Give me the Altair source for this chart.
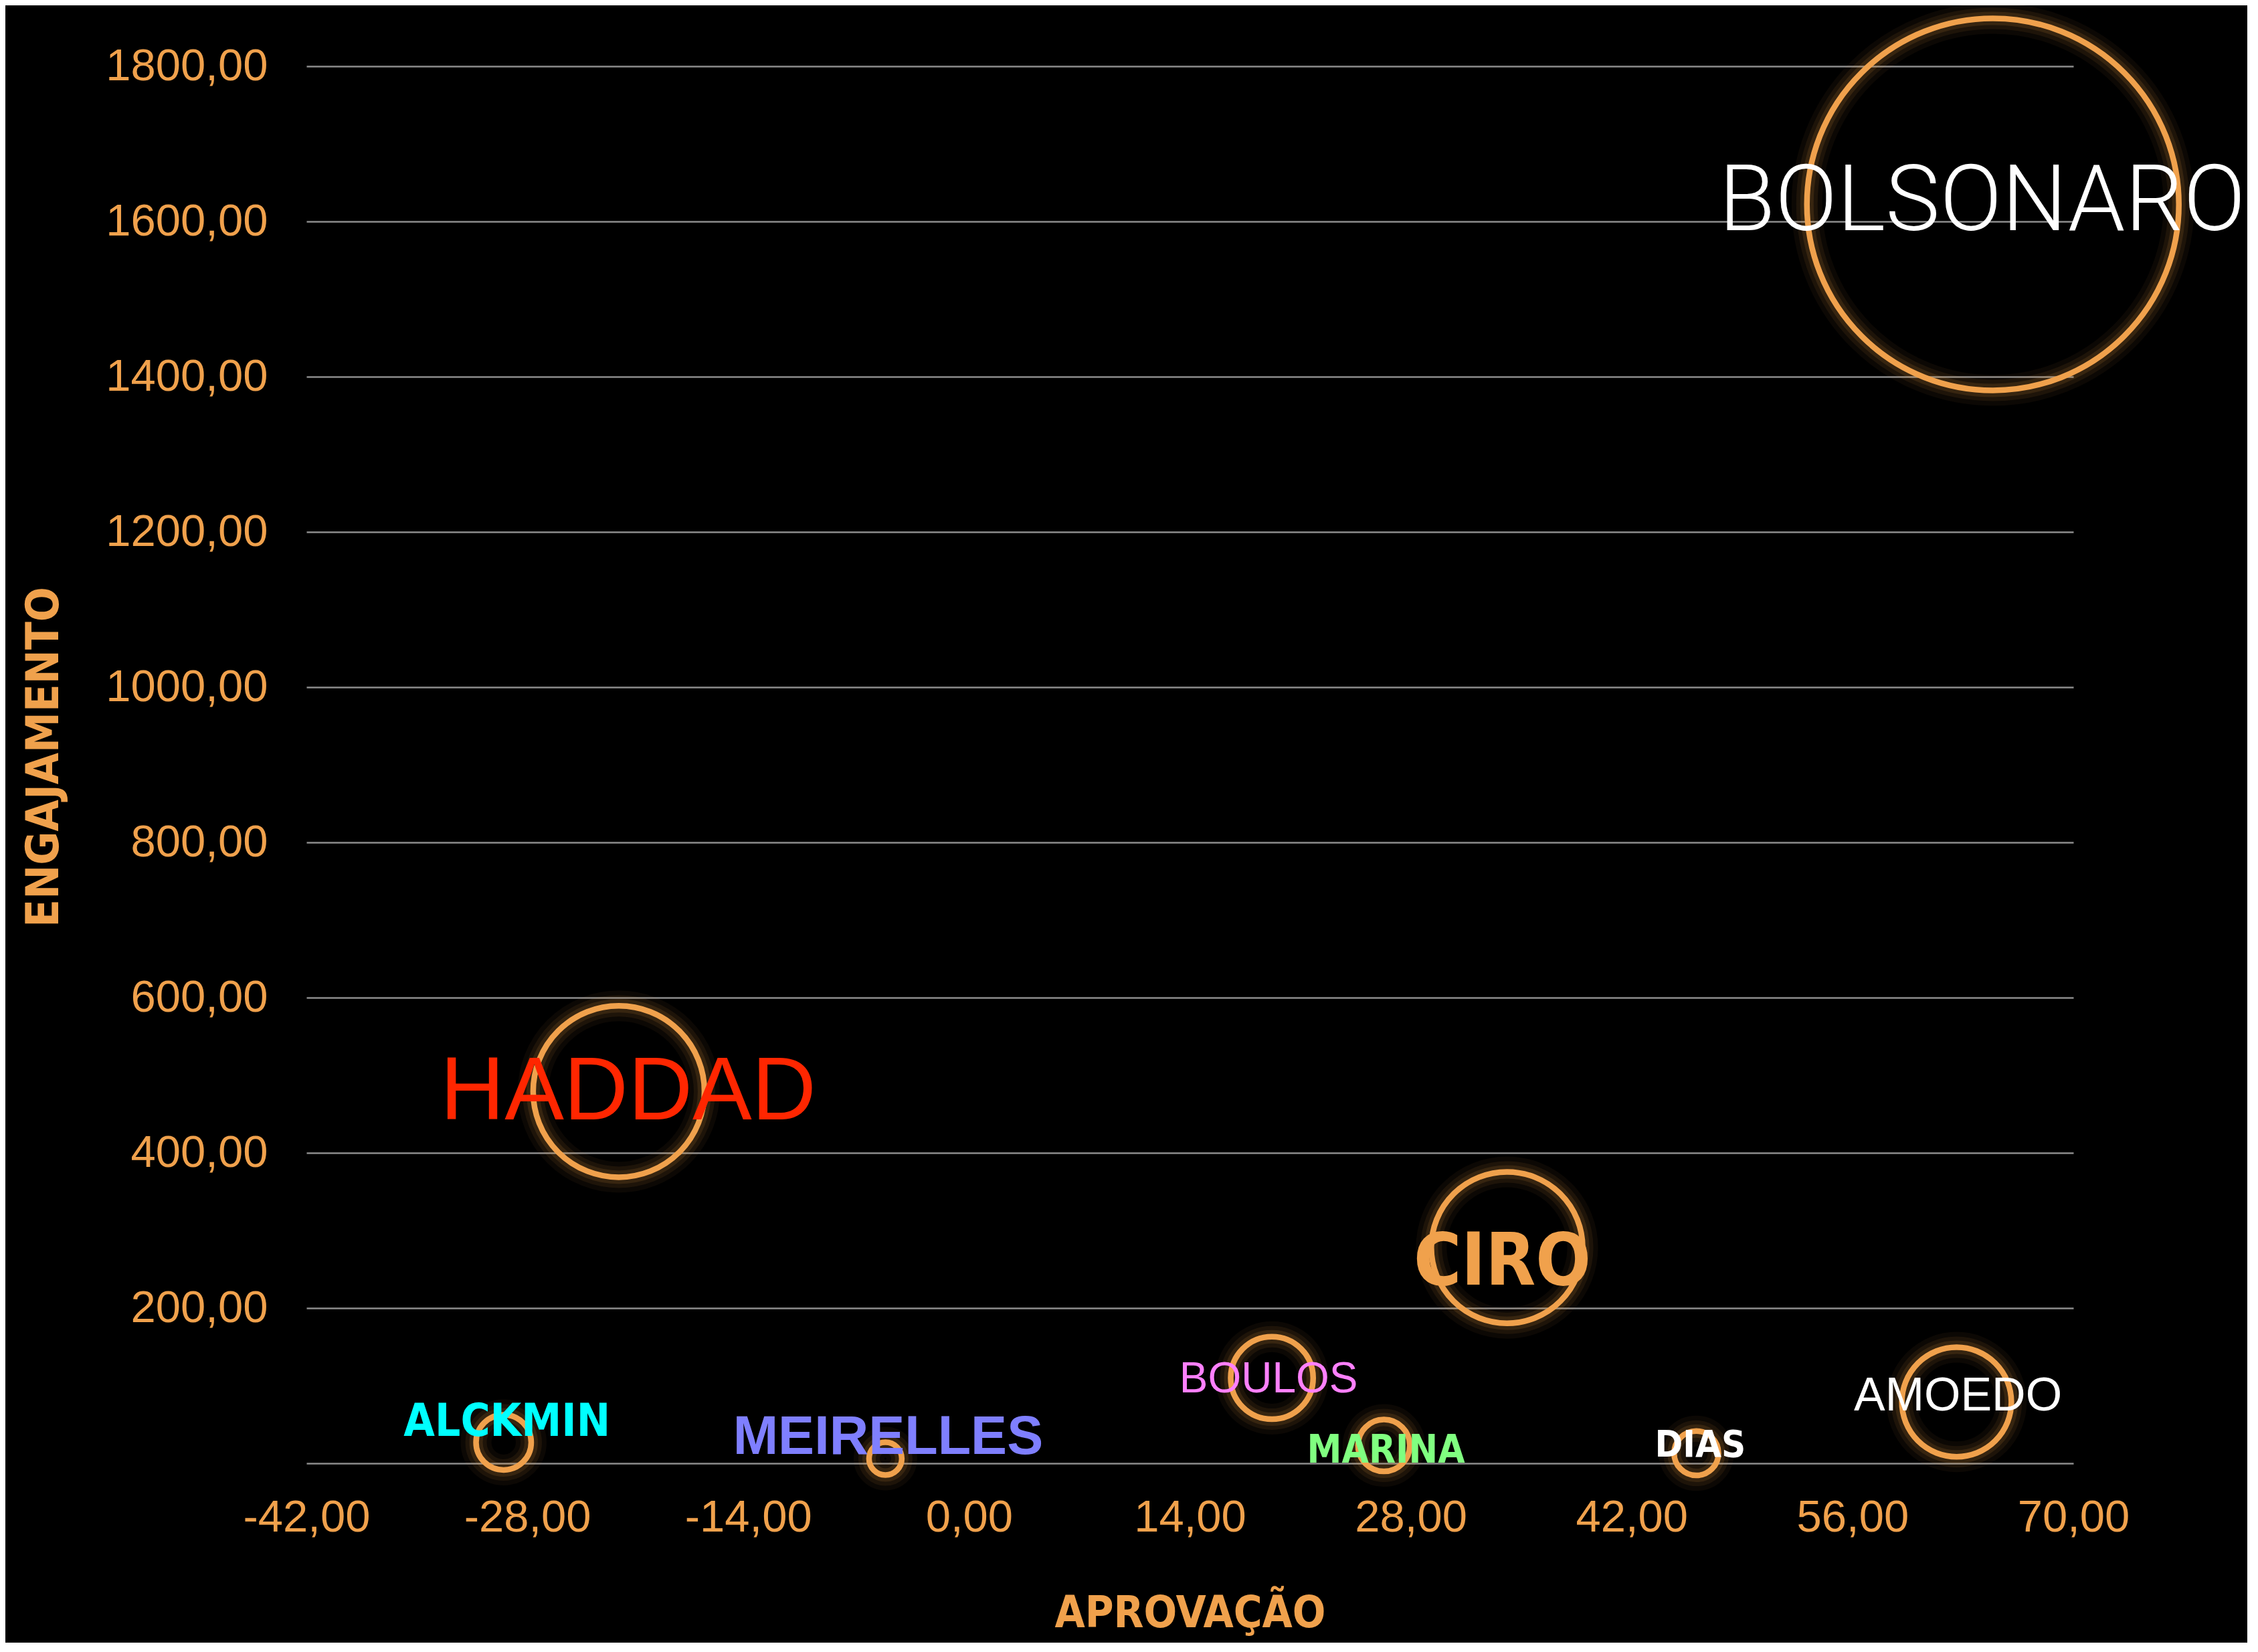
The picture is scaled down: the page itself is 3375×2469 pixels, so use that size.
import altair as alt
import pandas as pd

# ---- data ----
candidatos = ["BOLSONARO", "HADDAD", "CIRO", "BOULOS", "AMOEDO",
              "ALCKMIN", "MEIRELLES", "MARINA", "DIAS"]
aprovacao = [64.9, -22.2, 34.1, 19.2, 62.6, -29.5, -5.3, 26.3, 46.1]
engajamento = [1622, 479, 278, 110, 79, 27, 6, 23, 13]
tamanho = [773, 164, 128, 38, 67, 17, 6, 15, 11]

x_ticks = [-42, -28, -14, 0, 14, 28, 42, 56, 70]
y_ticks = [0, 200, 400, 600, 800, 1000, 1200, 1400, 1600, 1800]

df = pd.DataFrame({"nome": candidatos, "aprovacao": aprovacao,
                   "engajamento": engajamento, "tamanho": tamanho})

ORANGE = "#F0A14C"
HEAVY = ("'Noto Sans Condensed Black', 'Noto Sans Condensed ExtraBold', 'Noto Sans Condensed', "
         "'DejaVu Sans Condensed', 'Liberation Sans Narrow', 'Liberation Sans', sans-serif")
NARROW = ("'Noto Sans Condensed Bold', 'Noto Sans Condensed', 'DejaVu Sans Condensed', "
          "'Liberation Sans Narrow', 'Liberation Sans', sans-serif")
REG = "'Liberation Sans', Arial, sans-serif"

W, H = 2641, 2088

x_enc = alt.X("aprovacao:Q",
              scale=alt.Scale(domain=[-42, 70], nice=False, zero=False),
              axis=alt.Axis(values=x_ticks,
                            labelExpr="(datum.value < 0 ? '-' : '') + replace(format(abs(datum.value), '.2f'), '.', ',')",
                            grid=False, domain=False, ticks=False,
                            labelFont=REG, labelFontSize=67, labelColor=ORANGE,
                            labelPadding=48, labelBaseline="top", labelLimit=0,
                            labelFlush=False, labelOverlap=False, labelBound=False,
                            title="APROVAÇÃO", titleFont=HEAVY, titleFontSize=65,
                            titleFontWeight=900, titleColor=ORANGE,
                            titleX=W / 2, titleY=244, titleAlign="center",
                            titleBaseline="alphabetic", titleLimit=0))
y_enc = alt.Y("engajamento:Q",
              scale=alt.Scale(domain=[0, 1800], nice=False),
              axis=alt.Axis(values=y_ticks,
                            labelExpr="datum.value == 0 ? '' : replace(format(datum.value, '.2f'), '.', ',')",
                            grid=True, gridColor="#8c8c8c", gridWidth=2.5,
                            domain=False, ticks=False,
                            labelFont=REG, labelFontSize=67, labelColor=ORANGE,
                            labelPadding=58, labelLimit=0, labelFlush=False,
                            labelOverlap=False, labelBound=False,
                            title="ENGAJAMENTO", titleFont=HEAVY, titleFontSize=68,
                            titleFontWeight=900, titleColor=ORANGE,
                            titleAngle=270, titleX=-372, titleY=1032,
                            titleAlign="center", titleBaseline="alphabetic",
                            titleLimit=0))

size_enc = alt.Size("tamanho:Q",
                    scale=alt.Scale(domain=[0, 773], range=[0, 309100]),
                    legend=None)

base = alt.Chart(df).encode(x=x_enc, y=y_enc)

halos = [
    base.mark_point(shape="circle", filled=False, stroke=ORANGE, opacity=1,
                    strokeWidth=sw, strokeOpacity=op).encode(size=size_enc)
    for sw, op in [(46, 0.05), (32, 0.08), (20, 0.12)]
]
circles = base.mark_point(shape="circle", filled=False, stroke=ORANGE, opacity=1,
                          strokeWidth=8.5, strokeOpacity=1).encode(size=size_enc)

label_styles = {
    "BOLSONARO": dict(color="#FFFFFF", font="Roboto, Lato, sans-serif", fontWeight=300, fontSize=137, dx=-16, dy=39),
    "HADDAD": dict(color="#FF2600", font=REG, fontWeight="normal", fontSize=133, dx=14, dy=42),
    "CIRO": dict(color=ORANGE, font=HEAVY, fontWeight=900, fontSize=108, dx=-7, dy=55),
    "BOULOS": dict(color="#FF80FF", font=REG, fontWeight="normal", fontSize=64, dx=-5, dy=22),
    "AMOEDO": dict(color="#FFFFFF", font=REG, fontWeight="normal", fontSize=70, dx=2, dy=13),
    "ALCKMIN": dict(color="#00FFFF", font=NARROW, fontWeight="bold", fontSize=67, dx=5, dy=-10),
    "MEIRELLES": dict(color="#7F7FFF", font=REG, fontWeight="bold", fontSize=81, dx=4, dy=-7),
    "MARINA": dict(color="#80FF80", font=NARROW, fontWeight="bold", fontSize=58, dx=3, dy=26),
    "DIAS": dict(color="#FFFFFF", font=NARROW, fontWeight="bold", fontSize=56, dx=6, dy=5),
}

texts = [
    base.mark_text(align="center", baseline="alphabetic", **st)
        .encode(text="nome:N")
        .transform_filter(alt.datum.nome == nm)
    for nm, st in label_styles.items()
]

chart = alt.layer(*halos, circles, *texts).properties(
    width=W, height=H,
    autosize=alt.AutoSizeParams(type="none"),
    padding={"left": 450, "top": 91, "right": 260, "bottom": 268},
    background="#000000",
).configure_view(stroke=None)

chart.save("out.html", embed_options={"renderer": "svg", "actions": False})
